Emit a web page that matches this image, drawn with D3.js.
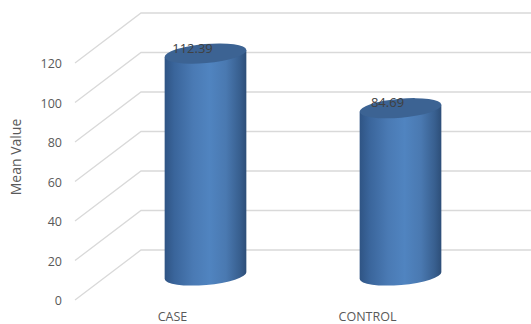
<!DOCTYPE html>
<html>
<head>
<meta charset="utf-8">
<script src="https://cdn.jsdelivr.net/npm/d3@7"></script>
<style>
html,body{margin:0;padding:0;background:#fff;overflow:hidden}
text{font-family:"Open Sans","Noto Sans",sans-serif;fill:#595959}
</style>
</head>
<body>
<script>
// Mean value per group
const categories = ["CASE", "CONTROL"];
const values = [112.39, 84.69];
const tickValues = [0, 20, 40, 60, 80, 100, 120];

const W = 531, H = 324;
// Oblique projection of the 3D chart box
const depthX = 66, depthY = -50;
const wallRight = W;
const y = d3.scaleLinear().domain([0, 120]).range([300, 63]);
const x = d3.scalePoint().domain(categories).range([205.5, 400.5]);
const floorDepth = 0.49;          // bars stand this far into the floor
const rx = 41, ry = 9.5, tilt = -5; // cylinder cap ellipse
const tiltRad = tilt * Math.PI / 180;

const svg = d3.select("body").append("svg")
  .attr("width", W).attr("height", H).style("display", "block");

const defs = svg.append("defs");
const bodyGrad = defs.append("linearGradient").attr("id", "cylBody");
[[0, "#2f5484"], [0.12, "#3a659b"], [0.35, "#4a7ab4"], [0.55, "#5084c0"],
 [0.75, "#4a79b1"], [0.92, "#385f8f"], [1, "#2d4e78"]]
  .forEach(([o, c]) => bodyGrad.append("stop").attr("offset", o).attr("stop-color", c));

// Floor diagonals and back wall lines
const grid = svg.append("g").attr("fill", "none").attr("stroke", "#d9d9d9").attr("stroke-width", 1.3);
grid.selectAll("path").data(tickValues).join("path")
  .attr("d", d => {
    const p = d3.path();
    p.moveTo(75, y(d));
    p.lineTo(75 + depthX, y(d) + depthY);
    p.lineTo(wallRight, y(d) + depthY);
    return p.toString();
  });

// Tick labels
svg.append("g").selectAll("text").data(tickValues).join("text")
  .attr("x", 62).attr("y", d => y(d) + 5)
  .attr("text-anchor", "end").attr("font-size", 12.5)
  .text(d => d);

svg.append("text")
  .attr("transform", "translate(21,157) rotate(-90)")
  .attr("text-anchor", "middle").attr("font-size", 14)
  .text("Mean Value");

// Cylinders
const heightOf = v => y(0) - y(v);
const baseY = y(0) + depthY * floorDepth;
const edgeDx = rx * Math.cos(tiltRad), edgeDy = rx * Math.sin(tiltRad);

const bars = svg.append("g").selectAll("g").data(categories.map((c, i) => ({c, v: values[i]}))).join("g");

bars.append("path")
  .attr("fill", "url(#cylBody)")
  .attr("d", d => {
    const cx = x(d.c), top = baseY - heightOf(d.v);
    return `M${cx - edgeDx},${top - edgeDy}` +
      `L${cx - edgeDx},${baseY - edgeDy}` +
      `A${rx},${ry} ${tilt} 0 0 ${cx + edgeDx},${baseY + edgeDy}` +
      `L${cx + edgeDx},${top + edgeDy}Z`;
  });

bars.append("ellipse")
  .attr("rx", rx).attr("ry", ry)
  .attr("fill", "#3c6393")
  .attr("transform", d => `translate(${x(d.c)},${baseY - heightOf(d.v)}) rotate(${tilt})`);

// Value labels sit on the cap
bars.append("text")
  .attr("x", d => x(d.c) - 13)
  .attr("y", d => baseY - heightOf(d.v) - 1)
  .attr("text-anchor", "middle").attr("font-size", 13)
  .style("fill", "#404040")
  .text(d => d.v.toFixed(2));

// Category labels
svg.append("g").selectAll("text").data(categories).join("text")
  .attr("x", d => x(d) - 33).attr("y", 320.5)
  .attr("text-anchor", "middle").attr("font-size", 12.5)
  .text(d => d);
</script>
</body>
</html>
